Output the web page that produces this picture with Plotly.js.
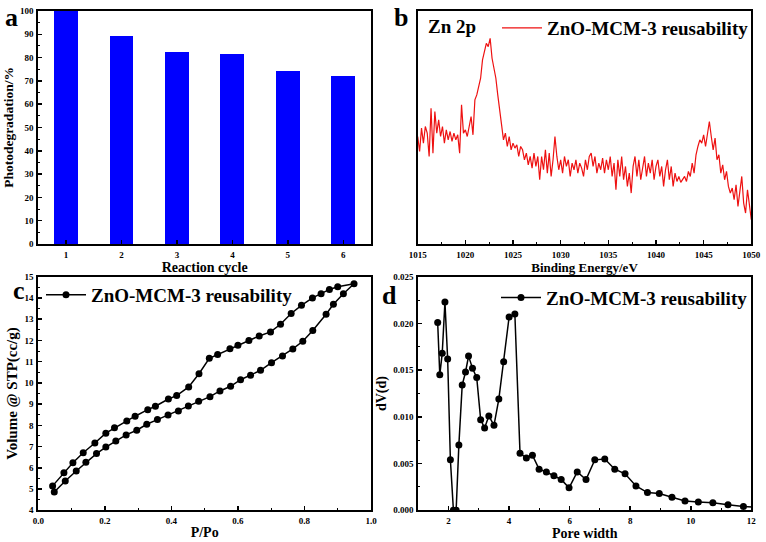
<!DOCTYPE html>
<html><head><meta charset="utf-8">
<script src="https://cdn.plot.ly/plotly-3.0.1.min.js"></script>
<style>html,body{margin:0;padding:0;background:#fff}#chart{width:766px;height:542px}</style>
</head><body><div id="chart"></div>
<script>
// Panel a: photodegradation per reaction cycle
const cycles = [1, 2, 3, 4, 5, 6];
const photodegradation = [100, 89.4, 82.2, 81.5, 74.1, 72.1];

// Panel b: Zn 2p XPS spectrum
const bindingEnergy = [
1015.0,1015.2,1015.4,1015.6,1015.8,1016.0,1016.2,1016.4,1016.6,1016.8,
1017.0,1017.2,1017.4,1017.6,1017.8,1018.0,1018.2,1018.4,1018.6,1018.8,
1019.0,1019.2,1019.4,1019.6,1019.8,1020.0,1020.2,1020.4,1020.6,1020.8,
1021.0,1021.2,1021.4,1021.6,1021.8,1022.0,1022.2,1022.4,1022.6,1022.8,
1023.0,1023.2,1023.4,1023.6,1023.8,1024.0,1024.2,1024.4,1024.6,1024.8,
1025.0,1025.2,1025.4,1025.6,1025.8,1026.0,1026.2,1026.4,1026.6,1026.8,
1027.0,1027.2,1027.4,1027.6,1027.8,1028.0,1028.2,1028.4,1028.6,1028.8,
1029.0,1029.2,1029.4,1029.6,1029.8,1030.0,1030.2,1030.4,1030.6,1030.8,
1031.0,1031.2,1031.4,1031.6,1031.8,1032.0,1032.2,1032.4,1032.6,1032.8,
1033.0,1033.2,1033.4,1033.6,1033.8,1034.0,1034.2,1034.4,1034.6,1034.8,
1035.0,1035.2,1035.4,1035.6,1035.8,1036.0,1036.2,1036.4,1036.6,1036.8,
1037.0,1037.2,1037.4,1037.6,1037.8,1038.0,1038.2,1038.4,1038.6,1038.8,
1039.0,1039.2,1039.4,1039.6,1039.8,1040.0,1040.2,1040.4,1040.6,1040.8,
1041.0,1041.2,1041.4,1041.6,1041.8,1042.0,1042.2,1042.4,1042.6,1042.8,
1043.0,1043.2,1043.4,1043.6,1043.8,1044.0,1044.2,1044.4,1044.6,1044.8,
1045.0,1045.2,1045.4,1045.6,1045.8,1046.0,1046.2,1046.4,1046.6,1046.8,
1047.0,1047.2,1047.4,1047.6,1047.8,1048.0,1048.2,1048.4,1048.6,1048.8,
1049.0,1049.2,1049.4,1049.6,1049.8,1050.0];
const xpsIntensity = [
323,278,348,303,353,333,263,408,273,398,
333,373,323,353,303,343,313,338,308,333,
313,328,273,418,333,343,323,348,383,328,
433,448,478,498,553,583,603,593,618,558,
528,498,448,393,358,313,333,293,323,283,
303,288,298,263,293,283,253,273,238,263,
228,273,233,263,193,263,223,283,213,273,
203,253,323,263,223,253,213,263,233,253,
203,243,223,253,213,243,228,203,253,223,
263,273,233,263,213,243,223,258,213,253,
223,263,203,243,163,253,203,263,193,233,
173,213,153,233,263,203,253,193,233,263,
203,243,213,253,193,233,253,203,233,173,
223,253,193,233,173,213,188,203,185,195,
203,188,218,203,243,213,268,293,313,303,
328,293,338,368,323,283,318,253,268,213,
238,193,218,173,153,168,133,178,113,163,
203,123,93,163,113,73];

// Panel c: N2 isotherm (adsorption then desorption)
const adsorptionP = [0.048,0.081,0.114,0.143,0.175,0.203,0.233,0.264,0.296,0.326,0.358,0.390,0.421,0.451,0.482,0.516,0.546,0.578,0.608,0.638,0.668,0.701,0.734,0.765,0.795,0.825,0.865,0.887,0.917,0.949];
const adsorptionV = [4.86,5.38,5.85,6.26,6.67,6.98,7.26,7.55,7.77,8.05,8.27,8.49,8.68,8.91,9.13,9.35,9.62,9.84,10.15,10.36,10.59,10.95,11.27,11.60,11.96,12.47,13.23,13.70,14.20,14.67];
const desorptionP = [0.900,0.875,0.850,0.824,0.791,0.760,0.728,0.698,0.664,0.633,0.600,0.576,0.539,0.514,0.483,0.452,0.416,0.391,0.352,0.329,0.291,0.266,0.229,0.203,0.170,0.135,0.104,0.077,0.043];
const desorptionV = [14.53,14.40,14.20,14.00,13.65,13.27,12.76,12.40,12.21,12.00,11.77,11.61,11.34,11.16,10.43,9.81,9.40,9.24,8.90,8.74,8.43,8.21,7.89,7.63,7.17,6.71,6.24,5.77,5.15];

// Panel d: pore size distribution
const poreWidth = [1.64,1.71,1.79,1.88,1.97,2.06,2.16,2.25,2.34,2.45,2.56,2.66,2.79,2.93,3.06,3.19,3.33,3.50,3.66,3.82,4.00,4.19,4.36,4.57,4.77,4.99,5.23,5.48,5.72,5.98,6.25,6.54,6.83,7.16,7.49,7.83,8.19,8.57,8.96,9.38,9.81,10.25,10.73,11.23,11.74,12.25];
const dVd = [0.0201,0.0145,0.0168,0.0223,0.0162,0.0054,0,0,0.0070,0.0134,0.0148,0.0165,0.0152,0.0142,0.0097,0.0088,0.0101,0.0091,0.0119,0.0159,0.0207,0.0210,0.0061,0.0056,0.0059,0.0044,0.0041,0.0037,0.0033,0.0024,0.0041,0.0033,0.0054,0.0055,0.0044,0.0039,0.0026,0.0019,0.0018,0.0014,0.0010,0.0009,0.0008,0.0006,0.0004,0.0003];

const seriesName = 'ZnO-MCM-3 reusability';
const FONT = 'Liberation Serif, Times New Roman, serif';
const W = 766, H = 542;
const px = v => v / W, py = v => 1 - v / H;

function axis(extra) {
  return Object.assign({
    showline: true, linecolor: '#000', linewidth: 2, mirror: true,
    ticks: 'inside', ticklen: 4, tickwidth: 1.5, tickcolor: '#000',
    showgrid: false, zeroline: false, ticklabelstandoff: 1,
    tickfont: {family: FONT, size: 9, color: '#000', weight: 'bold'}
  }, extra);
}
function ttl(text, size, standoff) {
  return {text: text, font: {family: FONT, size: size, color: '#000', weight: 'bold'}, standoff: standoff};
}
const minorTicks = d => ({ticks: 'inside', dtick: d, ticklen: 2, tickwidth: 1, tickcolor: '#000'});

const traces = [
  {type: 'bar', x: cycles, y: photodegradation, width: 0.43, marker: {color: '#0000ff'},
   xaxis: 'x', yaxis: 'y', showlegend: false},
  {type: 'scatter', mode: 'lines', x: bindingEnergy, y: xpsIntensity, name: seriesName,
   line: {color: '#ee1111', width: 1.2}, xaxis: 'x2', yaxis: 'y2', legend: 'legend'},
  {type: 'scatter', mode: 'lines+markers', x: adsorptionP.concat(desorptionP), y: adsorptionV.concat(desorptionV),
   name: seriesName, line: {color: '#000', width: 1.5}, marker: {color: '#000', size: 7},
   xaxis: 'x3', yaxis: 'y3', legend: 'legend2'},
  {type: 'scatter', mode: 'lines+markers', x: poreWidth, y: dVd, name: seriesName,
   line: {color: '#000', width: 1.5}, marker: {color: '#000', size: 7},
   xaxis: 'x4', yaxis: 'y4', legend: 'legend3'}
];

const legendFont = {family: FONT, size: 19, color: '#000', weight: 'bold'};
function leg(x, y) {
  return {x: px(x), y: py(y), xanchor: 'left', yanchor: 'middle', font: legendFont,
          bgcolor: 'rgba(0,0,0,0)', borderwidth: 0, itemwidth: 40};
}
const letter = (t, x, y) => ({text: t, x: px(x), y: py(y), xref: 'paper', yref: 'paper', showarrow: false,
  xanchor: 'center', yanchor: 'middle', font: {family: FONT, size: 26, color: '#000', weight: 'bold'}});

const layout = {
  width: W, height: H, margin: {l: 0, r: 0, t: 0, b: 0},
  paper_bgcolor: '#fff', plot_bgcolor: '#fff', bargap: 0,
  xaxis: axis({domain: [px(38.3), px(371)], range: [0.5, 6.5], dtick: 1, anchor: 'y',
    title: ttl('Reaction cycle', 14, 2)}),
  yaxis: axis({domain: [py(244), py(11)], range: [0, 100], dtick: 10, anchor: 'x', minor: minorTicks(5),
    title: ttl('Photodegradation/%', 13.5, 3)}),
  xaxis2: axis({domain: [px(417.7), px(751.3)], range: [1015, 1050], dtick: 5, anchor: 'y2', minor: minorTicks(2.5),
    title: ttl('Binding Energy/eV', 13, 1)}),
  yaxis2: axis({domain: [py(244), py(11)], range: [0, 700], anchor: 'x2', showticklabels: false, ticks: ''}),
  xaxis3: axis({domain: [px(38.3), px(371)], range: [0, 1], dtick: 0.2, tickformat: '.1f', anchor: 'y3', minor: minorTicks(0.1),
    title: ttl('P/Po', 14, 2)}),
  yaxis3: axis({domain: [py(510.3), py(276.7)], range: [4, 15], dtick: 1, anchor: 'x3', minor: minorTicks(0.5),
    title: ttl('Volume @ STP(cc/g)', 15, 3)}),
  xaxis4: axis({domain: [px(418.3), px(751.3)], range: [1, 12], dtick: 2, tick0: 0, anchor: 'y4', minor: minorTicks(1),
    title: ttl('Pore width', 14, 2)}),
  yaxis4: axis({domain: [py(510.3), py(276.7)], range: [0, 0.025], dtick: 0.005, tickformat: '.3f', anchor: 'x4', minor: minorTicks(0.0025),
    title: ttl('dV(d)', 14, 3)}),
  legend: leg(497, 28),
  legend2: leg(41, 295),
  legend3: leg(496, 297.7),
  annotations: [
    letter('a', 12, 18), letter('b', 401, 18), letter('c', 19, 290), letter('d', 389, 295),
    {text: 'Zn 2p', x: px(426), y: py(27), xref: 'paper', yref: 'paper', showarrow: false,
     xanchor: 'left', yanchor: 'middle', font: {family: FONT, size: 19, color: '#000', weight: 'bold'}}
  ]
};

Plotly.newPlot('chart', traces, layout, {displayModeBar: false, staticPlot: true});
</script></body></html>
